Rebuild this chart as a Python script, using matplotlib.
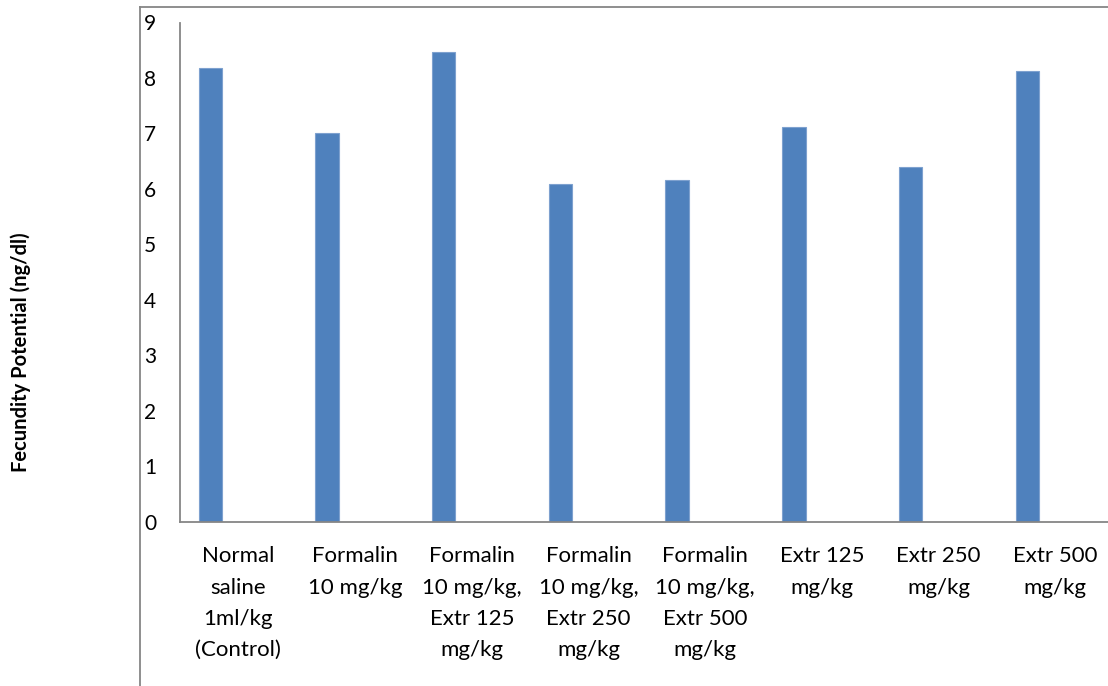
import matplotlib.pyplot as plt
from matplotlib.lines import Line2D

groups = [
    'Normal\nsaline\n1ml/kg\n(Control)',
    'Formalin\n10 mg/kg',
    'Formalin\n10 mg/kg,\nExtr 125\nmg/kg',
    'Formalin\n10 mg/kg,\nExtr 250\nmg/kg',
    'Formalin\n10 mg/kg,\nExtr 500\nmg/kg',
    'Extr 125\nmg/kg',
    'Extr 250\nmg/kg',
    'Extr 500\nmg/kg',
]
fecundity = [8.18, 7.00, 8.47, 6.09, 6.16, 7.12, 6.39, 8.13]

plt.rcParams['font.family'] = ['Lato', 'DejaVu Sans']

W, H = 1108, 686
fig = plt.figure(figsize=(W / 100, H / 100), dpi=100)

# plot area runs a bit past the right edge of the figure
left, right, top, bottom = 180, 180 + 8 * 116.7, 22.5, 521.5
ax = fig.add_axes([left / W, 1 - bottom / H, (right - left) / W, (bottom - top) / H])

xs = range(len(groups))
ax.bar([x - 0.24 for x in xs], fecundity, width=0.2, color='#4F81BD',
       edgecolor='#7EA1CF', linewidth=0.8)

ax.set_xlim(-0.5, len(groups) - 0.5)
ax.set_ylim(0, 9)
ax.set_yticks(range(10))
ax.set_xticks(list(xs))
ax.set_xticklabels(groups, fontsize=16, linespacing=1.7)
ax.tick_params(axis='x', length=0, pad=18)
ax.tick_params(axis='y', length=0, pad=17, labelsize=15)

for side in ('top', 'right'):
    ax.spines[side].set_visible(False)
for side in ('left', 'bottom'):
    ax.spines[side].set_color('#868686')
    ax.spines[side].set_linewidth(1.3)

fig.text(21 / W, 1 - 352 / H, 'Fecundity Potential (ng/dl)', rotation=90,
         ha='center', va='center', fontsize=14.5, fontweight='bold')

# chart area frame
frame_kw = dict(color='#868686', linewidth=1.3, transform=fig.transFigure)
fig.add_artist(Line2D([140 / W, 140 / W], [1 - 7 / H, 0], **frame_kw))
fig.add_artist(Line2D([140 / W, 1], [1 - 7 / H, 1 - 7 / H], **frame_kw))

fig.savefig('out.png', dpi=100)
